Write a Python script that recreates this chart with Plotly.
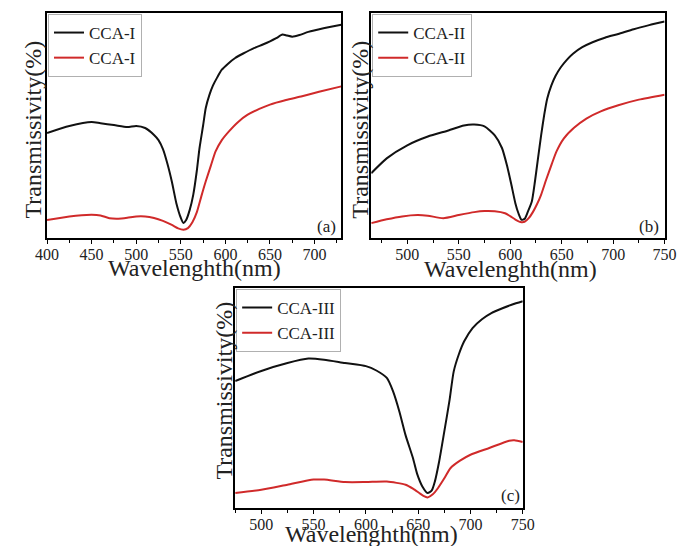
import plotly.graph_objects as go

# ---------------- data (arbitrary % units) ----------------
wl_a_black = [400, 425, 450, 460, 475, 490, 500, 510, 520, 525, 530, 535, 540, 545, 550, 553, 556, 560, 564,
              568, 571, 575, 578, 582, 586, 591, 596, 603, 611, 620, 632, 642, 650, 657, 664, 669, 675, 683,
              693, 710, 730]
t_a_black = [46.7, 49.8, 51.6, 51.0, 50.2, 49.3, 49.8, 48.9, 45.8, 43.5, 39.5, 33.0, 25.0, 15.5, 9.0, 6.7, 8.0,
             12.5, 19.3, 30.0, 40.0, 50.0, 57.8, 63.5, 67.7, 71.5, 74.8, 77.5, 80.0, 82.0, 84.4, 86.0, 87.4,
             88.8, 90.4, 90.0, 89.5, 90.2, 91.6, 93.2, 94.8]
wl_a_red = [400, 425, 450, 460, 470, 480, 490, 500, 510, 520, 530, 540, 547, 553, 558, 563, 568, 573, 578,
            584, 589, 596, 604, 614, 625, 638, 650, 668, 686, 705, 730]
t_a_red = [8.0, 9.6, 10.3, 10.0, 8.8, 8.6, 9.0, 9.6, 9.6, 8.9, 7.6, 5.8, 4.3, 3.7, 4.4, 7.0, 11.5, 18.5, 25.2,
           32.5, 38.5, 43.5, 47.4, 51.5, 54.8, 57.4, 59.3, 61.3, 63.0, 65.0, 67.4]

wl_b_black = [465, 480, 500, 520, 540, 555, 565, 575, 585, 592, 597, 601, 605, 608, 611, 614, 617, 621, 624,
              627, 630, 633, 636, 640, 644, 649, 655, 661, 670, 680, 692, 705, 720, 735, 750]
t_b_black = [28.8, 35.4, 41.2, 45.1, 47.8, 50.0, 50.4, 49.6, 45.6, 40.0, 32.0, 24.0, 15.5, 11.0, 8.1, 8.5, 11.5,
             16.2, 25.0, 35.4, 45.5, 54.6, 62.0, 67.8, 72.0, 75.8, 79.2, 81.9, 84.8, 87.0, 89.0, 90.7, 92.8,
             94.6, 96.2]
wl_b_red = [465, 480, 495, 510, 520, 535, 550, 565, 575, 585, 595, 600, 605, 610, 614, 618, 622, 626, 630,
            635, 640, 645, 652, 662, 674, 688, 705, 725, 750]
t_b_red = [6.6, 8.3, 9.6, 10.2, 9.9, 8.8, 10.2, 11.5, 12.0, 11.9, 11.0, 9.7, 8.2, 7.1, 7.2, 8.8, 11.5, 15.0,
           19.2, 26.0, 32.4, 38.5, 44.2, 49.0, 53.1, 56.3, 59.0, 61.5, 63.7]

wl_c_black = [475, 500, 525, 545, 560, 580, 600, 610, 620, 626, 632, 638, 645, 649, 654, 659, 663, 666, 670,
              675, 680, 684, 689, 694, 702, 711, 720, 730, 740, 750]
t_c_black = [57.7, 62.3, 65.9, 67.9, 67.4, 65.9, 64.5, 62.5, 59.1, 53.0, 43.9, 33.0, 22.7, 15.5, 9.8, 6.8, 8.0,
             12.1, 21.0, 34.8, 49.0, 62.1, 70.0, 75.8, 81.8, 85.8, 88.6, 90.7, 92.5, 94.0]
wl_c_red = [475, 500, 525, 550, 560, 580, 600, 620, 638, 645, 651, 655, 659, 664, 669, 675, 681, 690, 700,
            718, 737, 742, 750]
t_c_red = [6.8, 8.3, 10.6, 12.9, 12.9, 11.8, 11.8, 12.0, 10.6, 8.8, 6.8, 5.5, 4.8, 6.2, 9.1, 13.5, 18.2, 21.5,
           24.2, 27.3, 30.6, 30.8, 30.0]

labels_a = ["CCA-I", "CCA-I"]
labels_b = ["CCA-II", "CCA-II"]
labels_c = ["CCA-III", "CCA-III"]
panel_tags = ["(a)", "(b)", "(c)"]
x_title = "Wavelenghth(nm)"
y_title = "Transmissivity(%)"

# ---------------- layout geometry ----------------
W, H = 685, 546
FONT = "Liberation Serif"
BLACK = "#111111"
RED = "#d02a2a"
TXT = "#222222"


def px(x):
    return x / W


def py(y):
    return 1 - y / H


panels = [
    dict(x0=28, x1=333, y0=5, y1=230, xr=[400, 730], tick0=400),
    dict(x0=364, x1=668, y0=5, y1=230, xr=[465, 750], tick0=500),
    dict(x0=223, x1=521, y0=280, y1=500, xr=[475, 750], tick0=500),
]
series = [
    (wl_a_black, t_a_black, wl_a_red, t_a_red, labels_a),
    (wl_b_black, t_b_black, wl_b_red, t_b_red, labels_b),
    (wl_c_black, t_c_black, wl_c_red, t_c_red, labels_c),
]

fig = go.Figure()
legend_names = ["legend", "legend2", "legend3"]
for i, (p, s) in enumerate(zip(panels, series)):
    sfx = "" if i == 0 else str(i + 1)
    xb, yb, xr_, yr_, labs = s
    fig.add_trace(go.Scatter(x=xb, y=yb, mode="lines", name=labs[0],
                             line=dict(color=BLACK, width=2, shape="spline", smoothing=0.6),
                             xaxis="x" + sfx, yaxis="y" + sfx, legend=legend_names[i]))
    fig.add_trace(go.Scatter(x=xr_, y=yr_, mode="lines", name=labs[1],
                             line=dict(color=RED, width=2, shape="spline", smoothing=0.6),
                             xaxis="x" + sfx, yaxis="y" + sfx, legend=legend_names[i]))
    fig.layout["xaxis" + sfx] = dict(
        domain=[px(p["x0"]), px(p["x1"])], range=p["xr"], anchor="y" + sfx,
        showline=True, mirror=True, linecolor="black", linewidth=1.6,
        ticks="outside", ticklen=4, tickwidth=1.3, tickcolor="black",
        tick0=p["tick0"], dtick=50, ticklabelstandoff=-3,
        minor=dict(ticks="outside", ticklen=3, tickwidth=1.2, tickcolor="black", dtick=25),
        tickfont=dict(family=FONT, size=16, color=TXT),
        showgrid=False, zeroline=False,
    )
    fig.layout["yaxis" + sfx] = dict(
        domain=[py(p["y1"]), py(p["y0"])], range=[0, 100], anchor="x" + sfx,
        showline=True, mirror=True, linecolor="black", linewidth=1.6,
        showticklabels=False, ticks="", showgrid=False, zeroline=False,
    )
    fig.layout[legend_names[i]] = dict(
        x=px(p["x0"] + 1), y=py(p["y0"] + 1), xanchor="left", yanchor="top",
        bgcolor="white", bordercolor="#b0b0b0", borderwidth=1,
        font=dict(family=FONT, size=17, color=TXT),
        itemwidth=30, tracegroupgap=0,
    )

annotations = []
# x titles
for cx, cy in [(181, 260), (508, 261), (364, 526)]:
    annotations.append(dict(x=px(cx), y=py(cy), xref="paper", yref="paper", text=x_title,
                            showarrow=False, xanchor="center", yanchor="middle",
                            font=dict(family=FONT, size=24, color=TXT)))
# y titles
for cx, cy in [(13, 122), (352, 122), (211, 383)]:
    annotations.append(dict(x=px(cx), y=py(cy), xref="paper", yref="paper", text=y_title,
                            showarrow=False, xanchor="center", yanchor="middle", textangle=-90,
                            font=dict(family=FONT, size=24, color=TXT)))
# panel tags
for tag, (cx, cy) in zip(panel_tags, [(318, 218), (652, 218), (508, 487)]):
    annotations.append(dict(x=px(cx), y=py(cy), xref="paper", yref="paper", text=tag,
                            showarrow=False, xanchor="center", yanchor="middle",
                            font=dict(family=FONT, size=17, color=TXT)))

fig.update_layout(
    width=W, height=H, margin=dict(l=0, r=0, t=0, b=0),
    paper_bgcolor="white", plot_bgcolor="white",
    annotations=annotations, showlegend=True,
)

fig.write_html("out.html")
